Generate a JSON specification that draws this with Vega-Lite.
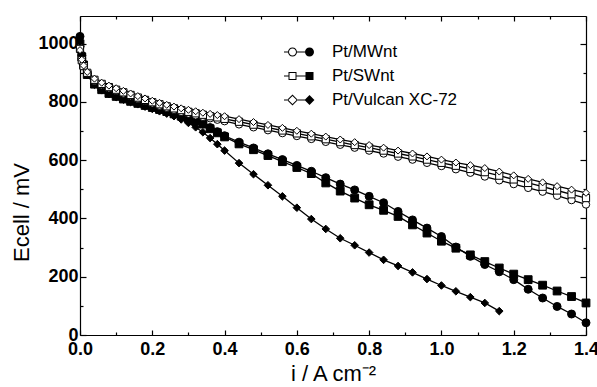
{
"$schema":"https://vega.github.io/schema/vega-lite/v6.json",
"width":506,"height":319,
"autosize":"none",
"padding":{"left":80,"top":16,"right":11,"bottom":52},
"background":"white",
"config":{"view":{"stroke":null},"font":"Liberation Sans",
"axis":{"grid":false,"domainColor":"black","domainWidth":1.2,"tickColor":"black","tickWidth":1.2,"labelColor":"black","labelFont":"Liberation Sans","labelFontSize":18,"labelFontWeight":"bold","titleFont":"Liberation Sans","titleFontSize":22,"titleFontWeight":"normal","titleColor":"black"},
"legend":{"labelFont":"Liberation Sans","labelColor":"black"}},
"data":{"values":[
{"series":"MWnt filled","i":0,"E":1025},{"series":"MWnt filled","i":0.005,"E":960},{"series":"MWnt filled","i":0.01,"E":930},{"series":"MWnt filled","i":0.02,"E":897},{"series":"MWnt filled","i":0.04,"E":864},{"series":"MWnt filled","i":0.06,"E":845},{"series":"MWnt filled","i":0.08,"E":832},{"series":"MWnt filled","i":0.10,"E":822},{"series":"MWnt filled","i":0.12,"E":813},{"series":"MWnt filled","i":0.14,"E":805},{"series":"MWnt filled","i":0.16,"E":798},{"series":"MWnt filled","i":0.18,"E":791},{"series":"MWnt filled","i":0.20,"E":784},{"series":"MWnt filled","i":0.22,"E":777},{"series":"MWnt filled","i":0.24,"E":770},{"series":"MWnt filled","i":0.26,"E":762},{"series":"MWnt filled","i":0.28,"E":754},{"series":"MWnt filled","i":0.30,"E":746},{"series":"MWnt filled","i":0.32,"E":737},{"series":"MWnt filled","i":0.34,"E":727},{"series":"MWnt filled","i":0.36,"E":712},{"series":"MWnt filled","i":0.38,"E":698},{"series":"MWnt filled","i":0.40,"E":684},{"series":"MWnt filled","i":0.44,"E":662},{"series":"MWnt filled","i":0.48,"E":642},{"series":"MWnt filled","i":0.52,"E":622},{"series":"MWnt filled","i":0.56,"E":602},{"series":"MWnt filled","i":0.60,"E":582},{"series":"MWnt filled","i":0.64,"E":562},{"series":"MWnt filled","i":0.68,"E":540},{"series":"MWnt filled","i":0.72,"E":518},{"series":"MWnt filled","i":0.76,"E":498},{"series":"MWnt filled","i":0.80,"E":476},{"series":"MWnt filled","i":0.84,"E":454},{"series":"MWnt filled","i":0.88,"E":424},{"series":"MWnt filled","i":0.92,"E":395},{"series":"MWnt filled","i":0.96,"E":367},{"series":"MWnt filled","i":1.00,"E":338},{"series":"MWnt filled","i":1.04,"E":302},{"series":"MWnt filled","i":1.08,"E":270},{"series":"MWnt filled","i":1.12,"E":242},{"series":"MWnt filled","i":1.16,"E":217},{"series":"MWnt filled","i":1.20,"E":190},{"series":"MWnt filled","i":1.24,"E":157},{"series":"MWnt filled","i":1.28,"E":127},{"series":"MWnt filled","i":1.32,"E":98},{"series":"MWnt filled","i":1.36,"E":72},{"series":"MWnt filled","i":1.40,"E":42},
{"series":"SWnt filled","i":0,"E":1000},{"series":"SWnt filled","i":0.005,"E":955},{"series":"SWnt filled","i":0.01,"E":927},{"series":"SWnt filled","i":0.02,"E":894},{"series":"SWnt filled","i":0.04,"E":861},{"series":"SWnt filled","i":0.06,"E":842},{"series":"SWnt filled","i":0.08,"E":829},{"series":"SWnt filled","i":0.10,"E":819},{"series":"SWnt filled","i":0.12,"E":810},{"series":"SWnt filled","i":0.14,"E":802},{"series":"SWnt filled","i":0.16,"E":795},{"series":"SWnt filled","i":0.18,"E":788},{"series":"SWnt filled","i":0.20,"E":781},{"series":"SWnt filled","i":0.22,"E":774},{"series":"SWnt filled","i":0.24,"E":767},{"series":"SWnt filled","i":0.26,"E":759},{"series":"SWnt filled","i":0.28,"E":751},{"series":"SWnt filled","i":0.30,"E":743},{"series":"SWnt filled","i":0.32,"E":734},{"series":"SWnt filled","i":0.34,"E":724},{"series":"SWnt filled","i":0.36,"E":708},{"series":"SWnt filled","i":0.38,"E":694},{"series":"SWnt filled","i":0.40,"E":680},{"series":"SWnt filled","i":0.44,"E":656},{"series":"SWnt filled","i":0.48,"E":636},{"series":"SWnt filled","i":0.52,"E":616},{"series":"SWnt filled","i":0.56,"E":595},{"series":"SWnt filled","i":0.60,"E":575},{"series":"SWnt filled","i":0.64,"E":554},{"series":"SWnt filled","i":0.68,"E":522},{"series":"SWnt filled","i":0.72,"E":494},{"series":"SWnt filled","i":0.76,"E":470},{"series":"SWnt filled","i":0.80,"E":447},{"series":"SWnt filled","i":0.84,"E":428},{"series":"SWnt filled","i":0.88,"E":407},{"series":"SWnt filled","i":0.92,"E":378},{"series":"SWnt filled","i":0.96,"E":350},{"series":"SWnt filled","i":1.00,"E":322},{"series":"SWnt filled","i":1.04,"E":298},{"series":"SWnt filled","i":1.08,"E":275},{"series":"SWnt filled","i":1.12,"E":252},{"series":"SWnt filled","i":1.16,"E":230},{"series":"SWnt filled","i":1.20,"E":209},{"series":"SWnt filled","i":1.24,"E":190},{"series":"SWnt filled","i":1.28,"E":171},{"series":"SWnt filled","i":1.32,"E":151},{"series":"SWnt filled","i":1.36,"E":132},{"series":"SWnt filled","i":1.40,"E":110},
{"series":"Vulcan filled","i":0,"E":990},{"series":"Vulcan filled","i":0.005,"E":950},{"series":"Vulcan filled","i":0.01,"E":925},{"series":"Vulcan filled","i":0.02,"E":892},{"series":"Vulcan filled","i":0.04,"E":859},{"series":"Vulcan filled","i":0.06,"E":840},{"series":"Vulcan filled","i":0.08,"E":827},{"series":"Vulcan filled","i":0.10,"E":817},{"series":"Vulcan filled","i":0.12,"E":808},{"series":"Vulcan filled","i":0.14,"E":800},{"series":"Vulcan filled","i":0.16,"E":792},{"series":"Vulcan filled","i":0.18,"E":784},{"series":"Vulcan filled","i":0.20,"E":776},{"series":"Vulcan filled","i":0.22,"E":768},{"series":"Vulcan filled","i":0.24,"E":760},{"series":"Vulcan filled","i":0.26,"E":751},{"series":"Vulcan filled","i":0.28,"E":740},{"series":"Vulcan filled","i":0.30,"E":728},{"series":"Vulcan filled","i":0.32,"E":713},{"series":"Vulcan filled","i":0.34,"E":696},{"series":"Vulcan filled","i":0.36,"E":676},{"series":"Vulcan filled","i":0.38,"E":655},{"series":"Vulcan filled","i":0.40,"E":633},{"series":"Vulcan filled","i":0.44,"E":590},{"series":"Vulcan filled","i":0.48,"E":552},{"series":"Vulcan filled","i":0.52,"E":514},{"series":"Vulcan filled","i":0.56,"E":476},{"series":"Vulcan filled","i":0.60,"E":437},{"series":"Vulcan filled","i":0.64,"E":398},{"series":"Vulcan filled","i":0.68,"E":364},{"series":"Vulcan filled","i":0.72,"E":332},{"series":"Vulcan filled","i":0.76,"E":308},{"series":"Vulcan filled","i":0.80,"E":283},{"series":"Vulcan filled","i":0.84,"E":258},{"series":"Vulcan filled","i":0.88,"E":237},{"series":"Vulcan filled","i":0.92,"E":215},{"series":"Vulcan filled","i":0.96,"E":192},{"series":"Vulcan filled","i":1.00,"E":170},{"series":"Vulcan filled","i":1.04,"E":150},{"series":"Vulcan filled","i":1.08,"E":130},{"series":"Vulcan filled","i":1.12,"E":110},{"series":"Vulcan filled","i":1.16,"E":82},
{"series":"MWnt open","i":0,"E":985},{"series":"MWnt open","i":0.005,"E":942},{"series":"MWnt open","i":0.01,"E":922},{"series":"MWnt open","i":0.02,"E":898},{"series":"MWnt open","i":0.04,"E":873},{"series":"MWnt open","i":0.06,"E":858},{"series":"MWnt open","i":0.08,"E":847},{"series":"MWnt open","i":0.10,"E":838},{"series":"MWnt open","i":0.12,"E":829},{"series":"MWnt open","i":0.14,"E":820},{"series":"MWnt open","i":0.16,"E":811},{"series":"MWnt open","i":0.18,"E":803},{"series":"MWnt open","i":0.20,"E":795},{"series":"MWnt open","i":0.22,"E":787},{"series":"MWnt open","i":0.24,"E":780},{"series":"MWnt open","i":0.26,"E":773},{"series":"MWnt open","i":0.28,"E":766},{"series":"MWnt open","i":0.30,"E":760},{"series":"MWnt open","i":0.32,"E":754},{"series":"MWnt open","i":0.34,"E":749},{"series":"MWnt open","i":0.36,"E":744},{"series":"MWnt open","i":0.38,"E":739},{"series":"MWnt open","i":0.40,"E":734},{"series":"MWnt open","i":0.44,"E":723},{"series":"MWnt open","i":0.48,"E":713},{"series":"MWnt open","i":0.52,"E":703},{"series":"MWnt open","i":0.56,"E":693},{"series":"MWnt open","i":0.60,"E":683},{"series":"MWnt open","i":0.64,"E":673},{"series":"MWnt open","i":0.68,"E":663},{"series":"MWnt open","i":0.72,"E":653},{"series":"MWnt open","i":0.76,"E":643},{"series":"MWnt open","i":0.80,"E":633},{"series":"MWnt open","i":0.84,"E":623},{"series":"MWnt open","i":0.88,"E":612},{"series":"MWnt open","i":0.92,"E":602},{"series":"MWnt open","i":0.96,"E":591},{"series":"MWnt open","i":1.00,"E":580},{"series":"MWnt open","i":1.04,"E":569},{"series":"MWnt open","i":1.08,"E":557},{"series":"MWnt open","i":1.12,"E":544},{"series":"MWnt open","i":1.16,"E":531},{"series":"MWnt open","i":1.20,"E":518},{"series":"MWnt open","i":1.24,"E":505},{"series":"MWnt open","i":1.28,"E":492},{"series":"MWnt open","i":1.32,"E":478},{"series":"MWnt open","i":1.36,"E":463},{"series":"MWnt open","i":1.40,"E":448},
{"series":"SWnt open","i":0,"E":982},{"series":"SWnt open","i":0.005,"E":943},{"series":"SWnt open","i":0.01,"E":923},{"series":"SWnt open","i":0.02,"E":900},{"series":"SWnt open","i":0.04,"E":876},{"series":"SWnt open","i":0.06,"E":862},{"series":"SWnt open","i":0.08,"E":851},{"series":"SWnt open","i":0.10,"E":842},{"series":"SWnt open","i":0.12,"E":833},{"series":"SWnt open","i":0.14,"E":824},{"series":"SWnt open","i":0.16,"E":815},{"series":"SWnt open","i":0.18,"E":807},{"series":"SWnt open","i":0.20,"E":799},{"series":"SWnt open","i":0.22,"E":792},{"series":"SWnt open","i":0.24,"E":785},{"series":"SWnt open","i":0.26,"E":778},{"series":"SWnt open","i":0.28,"E":772},{"series":"SWnt open","i":0.30,"E":766},{"series":"SWnt open","i":0.32,"E":761},{"series":"SWnt open","i":0.34,"E":756},{"series":"SWnt open","i":0.36,"E":751},{"series":"SWnt open","i":0.38,"E":747},{"series":"SWnt open","i":0.40,"E":742},{"series":"SWnt open","i":0.44,"E":732},{"series":"SWnt open","i":0.48,"E":722},{"series":"SWnt open","i":0.52,"E":712},{"series":"SWnt open","i":0.56,"E":702},{"series":"SWnt open","i":0.60,"E":692},{"series":"SWnt open","i":0.64,"E":682},{"series":"SWnt open","i":0.68,"E":672},{"series":"SWnt open","i":0.72,"E":662},{"series":"SWnt open","i":0.76,"E":652},{"series":"SWnt open","i":0.80,"E":643},{"series":"SWnt open","i":0.84,"E":633},{"series":"SWnt open","i":0.88,"E":623},{"series":"SWnt open","i":0.92,"E":613},{"series":"SWnt open","i":0.96,"E":602},{"series":"SWnt open","i":1.00,"E":591},{"series":"SWnt open","i":1.04,"E":581},{"series":"SWnt open","i":1.08,"E":570},{"series":"SWnt open","i":1.12,"E":559},{"series":"SWnt open","i":1.16,"E":547},{"series":"SWnt open","i":1.20,"E":534},{"series":"SWnt open","i":1.24,"E":522},{"series":"SWnt open","i":1.28,"E":509},{"series":"SWnt open","i":1.32,"E":496},{"series":"SWnt open","i":1.36,"E":483},{"series":"SWnt open","i":1.40,"E":470},
{"series":"Vulcan open","i":0,"E":978},{"series":"Vulcan open","i":0.005,"E":945},{"series":"Vulcan open","i":0.01,"E":925},{"series":"Vulcan open","i":0.02,"E":903},{"series":"Vulcan open","i":0.04,"E":880},{"series":"Vulcan open","i":0.06,"E":866},{"series":"Vulcan open","i":0.08,"E":856},{"series":"Vulcan open","i":0.10,"E":847},{"series":"Vulcan open","i":0.12,"E":838},{"series":"Vulcan open","i":0.14,"E":829},{"series":"Vulcan open","i":0.16,"E":820},{"series":"Vulcan open","i":0.18,"E":812},{"series":"Vulcan open","i":0.20,"E":804},{"series":"Vulcan open","i":0.22,"E":797},{"series":"Vulcan open","i":0.24,"E":790},{"series":"Vulcan open","i":0.26,"E":784},{"series":"Vulcan open","i":0.28,"E":778},{"series":"Vulcan open","i":0.30,"E":773},{"series":"Vulcan open","i":0.32,"E":768},{"series":"Vulcan open","i":0.34,"E":763},{"series":"Vulcan open","i":0.36,"E":759},{"series":"Vulcan open","i":0.38,"E":755},{"series":"Vulcan open","i":0.40,"E":751},{"series":"Vulcan open","i":0.44,"E":741},{"series":"Vulcan open","i":0.48,"E":731},{"series":"Vulcan open","i":0.52,"E":721},{"series":"Vulcan open","i":0.56,"E":711},{"series":"Vulcan open","i":0.60,"E":701},{"series":"Vulcan open","i":0.64,"E":691},{"series":"Vulcan open","i":0.68,"E":681},{"series":"Vulcan open","i":0.72,"E":671},{"series":"Vulcan open","i":0.76,"E":662},{"series":"Vulcan open","i":0.80,"E":652},{"series":"Vulcan open","i":0.84,"E":643},{"series":"Vulcan open","i":0.88,"E":633},{"series":"Vulcan open","i":0.92,"E":623},{"series":"Vulcan open","i":0.96,"E":613},{"series":"Vulcan open","i":1.00,"E":602},{"series":"Vulcan open","i":1.04,"E":592},{"series":"Vulcan open","i":1.08,"E":583},{"series":"Vulcan open","i":1.12,"E":573},{"series":"Vulcan open","i":1.16,"E":561},{"series":"Vulcan open","i":1.20,"E":548},{"series":"Vulcan open","i":1.24,"E":536},{"series":"Vulcan open","i":1.28,"E":524},{"series":"Vulcan open","i":1.32,"E":511},{"series":"Vulcan open","i":1.36,"E":499},{"series":"Vulcan open","i":1.40,"E":488}
]},
"layer":[
{"mark":{"type":"line","color":"black","strokeWidth":1.3},
 "encoding":{
  "x":{"field":"i","type":"quantitative","scale":{"domain":[0,1.4],"nice":false,"zero":false},
   "axis":{"orient":"bottom","title":"i / A cm⁻²","values":[0,0.1,0.2,0.3,0.4,0.5,0.6,0.7,0.8,0.9,1.0,1.1,1.2,1.3,1.4],
    "labelExpr":"round(datum.value*10) % 2 === 0 ? format(datum.value, '.1f') : ''",
    "tickSize":{"condition":{"test":"round(datum.value*10) % 2 === 0","value":-5},"value":-3},
    "labelPadding":10,"titlePadding":3,"labelFlush":false,"labelOverlap":false}},
  "y":{"field":"E","type":"quantitative","scale":{"domain":[0,1095],"nice":false,"zero":false},
   "axis":{"orient":"left","title":"Ecell / mV","values":[0,100,200,300,400,500,600,700,800,900,1000],
    "labelExpr":"datum.value % 200 === 0 ? format(datum.value, 'd') : ''",
    "tickSize":{"condition":{"test":"datum.value % 200 === 0","value":-6},"value":-3},
    "labelPadding":8,"titlePadding":4,"titleY":196,"labelFlush":false,"labelOverlap":false}},
  "detail":{"field":"series","type":"nominal"}}},
{"mark":{"type":"point","filled":true,"stroke":"black","strokeWidth":1,"opacity":1},
 "encoding":{
  "x":{"field":"i","type":"quantitative",
   "axis":{"orient":"top","title":null,"labels":false,"values":[0,0.1,0.2,0.3,0.4,0.5,0.6,0.7,0.8,0.9,1.0,1.1,1.2,1.3,1.4],
    "tickSize":{"condition":{"test":"round(datum.value*10) % 2 === 0","value":-5},"value":-3}}},
  "y":{"field":"E","type":"quantitative",
   "axis":{"orient":"right","title":null,"labels":false,"values":[0,100,200,300,400,500,600,700,800,900,1000],
    "tickSize":{"condition":{"test":"datum.value % 200 === 0","value":-6},"value":-3}}},
  "shape":{"field":"series","type":"nominal","legend":null,
   "scale":{"domain":["MWnt filled","SWnt filled","Vulcan filled","MWnt open","SWnt open","Vulcan open"],"range":["circle","square","diamond","circle","square","diamond"]}},
  "fill":{"field":"series","type":"nominal","legend":null,
   "scale":{"domain":["MWnt filled","SWnt filled","Vulcan filled","MWnt open","SWnt open","Vulcan open"],"range":["black","black","black","white","white","white"]}},
  "size":{"field":"series","type":"nominal","legend":null,
   "scale":{"domain":["MWnt filled","SWnt filled","Vulcan filled","MWnt open","SWnt open","Vulcan open"],"range":[64,49,81,72,56,100]}}}},
{"data":{"values":[{"catalyst":"Pt/MWnt"},{"catalyst":"Pt/SWnt"},{"catalyst":"Pt/Vulcan XC-72"}]},
 "transform":[{"filter":"false"}],
 "mark":{"type":"point","filled":true,"color":"black","strokeWidth":0},
 "encoding":{
  "shape":{"field":"catalyst","type":"nominal",
   "scale":{"domain":["Pt/MWnt","Pt/SWnt","Pt/Vulcan XC-72"],
    "range":[
     "M-1 -0.033H-0.733V0.033H-1Z M-0.133 -0.033H0.45V0.033H-0.133Z M-0.733 0A0.3 0.3 0 1 1 -0.133 0A0.3 0.3 0 1 1 -0.733 0Z M-0.667 0A0.233 0.233 0 1 0 -0.2 0A0.233 0.233 0 1 0 -0.667 0Z M0.4 0A0.3 0.3 0 1 1 1 0A0.3 0.3 0 1 1 0.4 0Z",
     "M-1 -0.033H-0.7V0.033H-1Z M-0.167 -0.033H0.45V0.033H-0.167Z M-0.7 -0.267H-0.167V0.267H-0.7Z M-0.633 -0.2V0.2H-0.233V-0.2Z M0.433 -0.267H0.967V0.267H0.433Z",
     "M-1 -0.033H-0.8V0.033H-1Z M-0.067 -0.033H0.45V0.033H-0.067Z M-0.8 0L-0.433 -0.367L-0.067 0L-0.433 0.367Z M-0.706 0L-0.433 0.273L-0.16 0L-0.433 -0.273Z M0.37 0L0.7 -0.33L1.03 0L0.7 0.33Z"]},
   "legend":{"orient":"none","legendX":204,"legendY":26,"title":null,"padding":0,
    "symbolSize":900,"symbolFillColor":"black","symbolStrokeColor":"black","symbolStrokeWidth":0,"symbolOpacity":1,
    "labelFontSize":17,"labelOffset":18,"clipHeight":20,"rowPadding":4}}}}
],
"resolve":{"axis":{"x":"independent","y":"independent"},"scale":{"shape":"independent"}}
}
